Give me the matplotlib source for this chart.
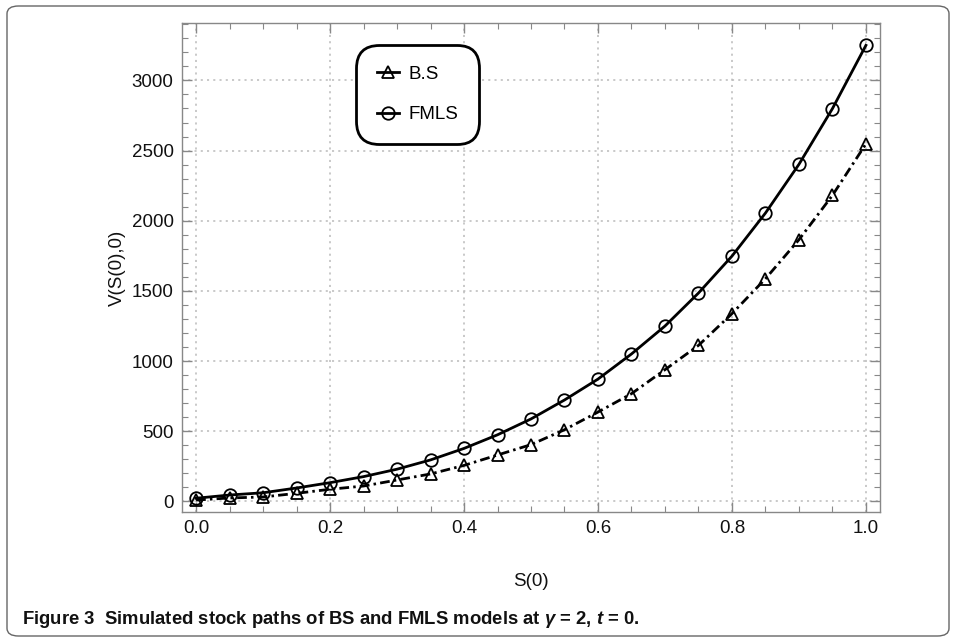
import matplotlib
matplotlib.use("Agg")
import matplotlib.pyplot as plt
from matplotlib.lines import Line2D
from matplotlib.patches import FancyBboxPatch
from matplotlib.ticker import MultipleLocator

plt.rcParams["font.family"] = ["Liberation Sans", "DejaVu Sans"]
plt.rcParams["mathtext.fontset"] = "custom"
plt.rcParams["mathtext.it"] = "Liberation Sans:italic:bold"
plt.rcParams["mathtext.rm"] = "Liberation Sans:bold"
plt.rcParams["lines.scale_dashes"] = False

# S(0) sample points
s0 = [0.0, 0.05, 0.1, 0.15, 0.2, 0.25, 0.3, 0.35, 0.4, 0.45, 0.5,
      0.55, 0.6, 0.65, 0.7, 0.75, 0.8, 0.85, 0.9, 0.95, 1.0]

# option values
bs_vals = [10, 25, 32, 58, 87, 110, 153, 196, 257, 331, 405,
           511, 637, 768, 939, 1112, 1338, 1587, 1865, 2181, 2548]
fmls_vals = [23, 46, 62, 96, 134, 177, 230, 296, 378, 475, 588,
             723, 872, 1051, 1250, 1485, 1748, 2055, 2402, 2799, 3250]

caption = ("Figure 3  Simulated stock paths of BS and FMLS models at "
           "$\\gamma$ = 2, $t$ = 0.")


def main():
    W, H = 957, 642
    fig = plt.figure(figsize=(W / 100, H / 100), dpi=100)
    ax = fig.add_axes([182 / W, 1 - 512 / H, (880 - 182) / W, (512 - 23) / H])

    # outer rounded frame
    fig.patches.append(FancyBboxPatch(
        (7 / W, 6 / H), (949 - 7) / W, (636 - 6) / H,
        boxstyle="round,pad=0,rounding_size=0.012",
        transform=fig.transFigure, facecolor="none",
        edgecolor="#666666", linewidth=1.0))

    ax.plot(s0, fmls_vals, color="black", lw=2.0, marker="o", ms=9,
            mfc="none", mec="black", mew=1.3, zorder=3)
    ax.plot(s0, bs_vals, color="black", lw=2.0, dashes=(7, 3, 1.8, 3),
            marker="^", ms=9, mfc="none", mec="black", mew=1.3, zorder=3)

    ax.set_xlim(-0.021, 1.021)
    ax.set_ylim(-75, 3409)

    ax.xaxis.set_major_locator(MultipleLocator(0.2))
    ax.xaxis.set_minor_locator(MultipleLocator(0.05))
    ax.yaxis.set_major_locator(MultipleLocator(500))
    ax.yaxis.set_minor_locator(MultipleLocator(100))
    ax.xaxis.set_major_formatter(plt.FuncFormatter(lambda v, p: f"{v:.1f}"))

    ax.tick_params(which="both", direction="in", top=True, right=True,
                   color="#888888", labelsize=13.5, labelcolor="#111111")
    ax.tick_params(which="major", length=7, width=1)
    ax.tick_params(which="minor", length=4, width=0.8)
    ax.tick_params(axis="x", pad=6)
    ax.tick_params(axis="y", pad=6)

    for sp in ax.spines.values():
        sp.set_color("#888888")
        sp.set_linewidth(1.0)

    ax.grid(which="major", color="#bbbbbb", linestyle=(0, (1.5, 3)), lw=1.1)
    ax.set_axisbelow(True)

    ax.set_xlabel("S(0)", fontsize=13.5, labelpad=26, color="#111111")
    ax.set_ylabel("V(S(0),0)", fontsize=13.5, labelpad=4, color="#111111")

    handles = [
        Line2D([], [], color="black", lw=2.0, marker="^", ms=9, mfc="none",
               mew=1.3),
        Line2D([], [], color="black", lw=2.0, marker="o", ms=9, mfc="none",
               mew=1.3),
    ]
    leg = ax.legend(handles, ["B.S", "FMLS"], loc="upper left",
                    bbox_to_anchor=(356 / W, 1 - 45 / H),
                    bbox_transform=fig.transFigure, fontsize=13.5,
                    handlelength=1.2, handletextpad=0.5, labelspacing=1.25,
                    borderpad=1.1, borderaxespad=0, fancybox=True,
                    framealpha=1, edgecolor="black")
    leg.get_frame().set_linewidth(2.0)
    leg.get_frame().set_boxstyle("round,pad=0,rounding_size=1.2")

    fig.text(22 / W, 1 - 620 / H, caption, fontsize=13.3, fontweight="bold",
             color="#111111", va="center", ha="left")

    fig.savefig("out.png", dpi=100)
    plt.close(fig)


if __name__ == "__main__":
    main()
